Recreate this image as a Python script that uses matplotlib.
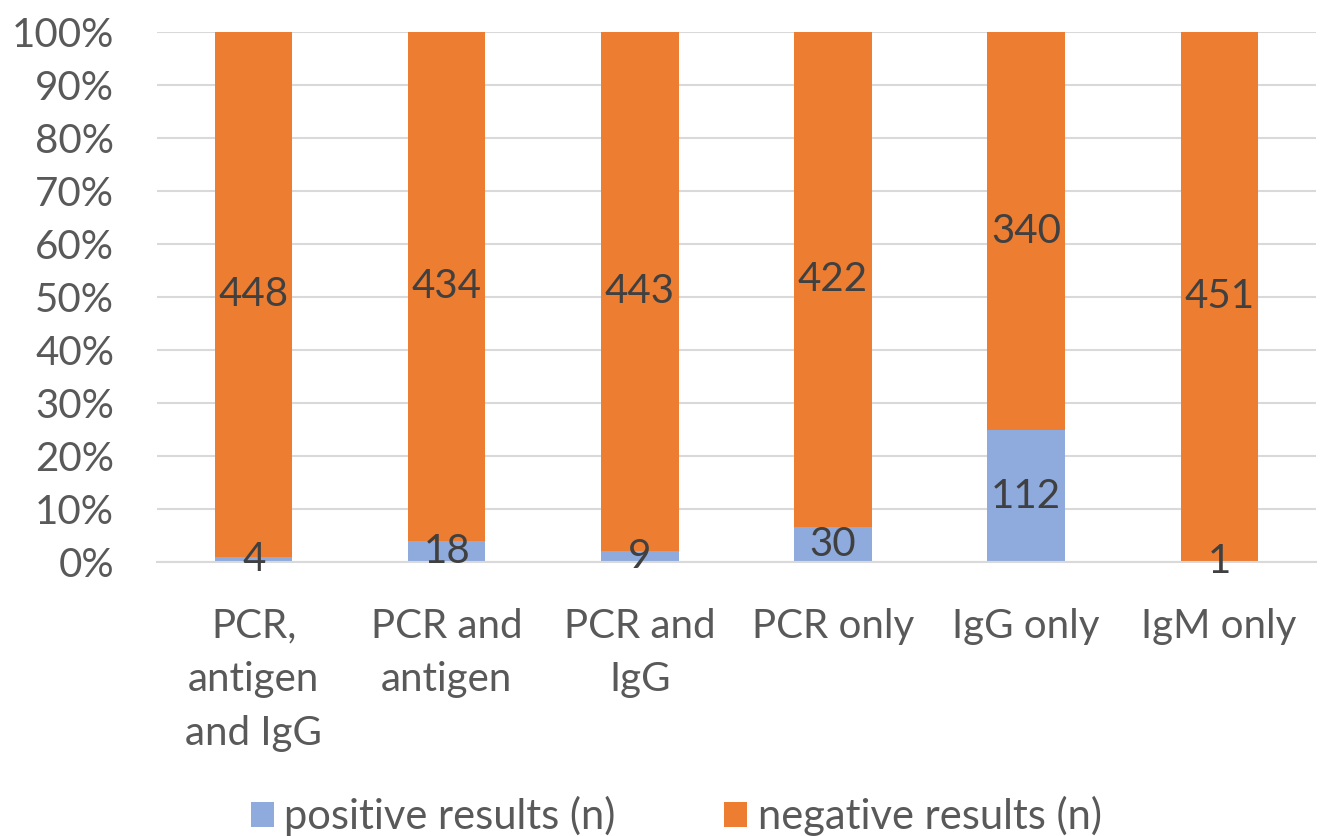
import matplotlib
matplotlib.use("Agg")
import matplotlib.pyplot as plt
import numpy as np

categories = ["PCR,\nantigen\nand IgG", "PCR and\nantigen", "PCR and\nIgG", "PCR only", "IgG only", "IgM only"]
positive = [4, 18, 9, 30, 112, 1]
negative = [448, 434, 443, 422, 340, 451]
yticks = [0, 10, 20, 30, 40, 50, 60, 70, 80, 90, 100]

plt.rcParams['font.family'] = ['Lato', 'DejaVu Sans']

fig = plt.figure(figsize=(13.21, 8.36), dpi=100)
ax = fig.add_axes([0.119, 0.328, 0.877, 0.634])

pos = np.array(positive, dtype=float)
neg = np.array(negative, dtype=float)
tot = pos + neg
pp = pos / tot * 100
nn = neg / tot * 100
x = np.arange(len(categories))

b1 = ax.bar(x, pp, width=0.4, color="#8FAADC", label="positive results (n)", zorder=2)
b2 = ax.bar(x, nn, width=0.4, bottom=pp, color="#ED7D31", label="negative results (n)", zorder=2)

fs = 29
for i in range(len(x)):
    ax.text(x[i], pp[i] / 2, str(positive[i]), ha="center", va="center", fontsize=fs, color="#404040", zorder=3)
    ax.text(x[i], pp[i] + nn[i] / 2, str(negative[i]), ha="center", va="center", fontsize=fs, color="#404040", zorder=3)

ax.set_xlim(-0.5, len(x) - 0.5)
ax.set_ylim(0, 100)
ax.set_yticks(yticks)
ax.set_yticklabels([f"{t}%" for t in yticks])
ax.set_xticks(x)
ax.set_xticklabels(categories, linespacing=1.55)
ax.tick_params(axis="both", length=0, labelsize=fs, colors="#595959")
ax.tick_params(axis="x", pad=33)
ax.tick_params(axis="y", pad=31)
ax.grid(axis="y", color="#D9D9D9", linewidth=1.5, zorder=0)
for s in ["top", "right", "left"]:
    ax.spines[s].set_visible(False)
ax.spines["bottom"].set_color("#D9D9D9")
ax.spines["bottom"].set_linewidth(1.5)

leg = fig.legend(handles=[b1, b2], loc="center", bbox_to_anchor=(0.512, 0.024), ncol=2, frameon=False,
                 fontsize=30, handlelength=0.55, handleheight=0.55, handletextpad=0.25, columnspacing=2.6)
for t in leg.get_texts():
    t.set_color("#595959")

fig.savefig("out.png", dpi=100)
